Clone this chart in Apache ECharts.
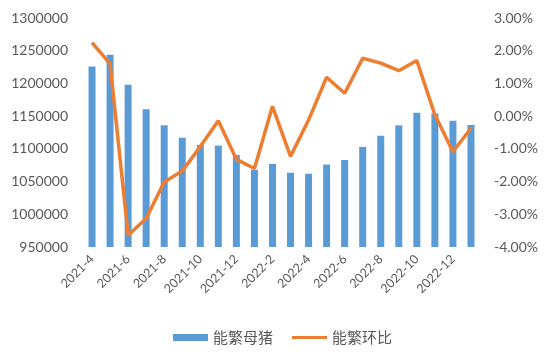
<!DOCTYPE html>
<html>
<head>
<meta charset="utf-8">
<script src="https://cdn.jsdelivr.net/npm/echarts@6/dist/echarts.min.js"></script>
<style>html,body{margin:0;padding:0;background:#fff}#c{width:550px;height:359px}</style>
</head>
<body>
<div id="c"></div>
<script>
const categories = ['2021-4','2021-5','2021-6','2021-7','2021-8','2021-9','2021-10','2021-11','2021-12','2022-1','2022-2','2022-3','2022-4','2022-5','2022-6','2022-7','2022-8','2022-9','2022-10','2022-11','2022-12','2023-1'];
const sowStock = [1226000,1244000,1198000,1160500,1136000,1117000,1106000,1105000,1090500,1068000,1077000,1063500,1062000,1076000,1083000,1103000,1120000,1136000,1155000,1154000,1143000,1136500];
const momChange = [2.25,1.60,-3.64,-3.13,-2.01,-1.68,-0.93,-0.14,-1.32,-1.60,0.30,-1.23,-0.12,1.19,0.70,1.77,1.62,1.39,1.70,0.04,-1.09,-0.37];
const leftTicks = {min:950000, max:1300000, interval:50000};
const rightTicks = {min:-4, max:3, interval:1};

const chart = echarts.init(document.getElementById('c'));
const labelColor = '#595959';
const font = 'Lato, "Noto Sans CJK SC", sans-serif';
chart.setOption({
  animation:false,
  grid:{left:83,right:70,top:18,bottom:112,containLabel:false},
  legend:{
    left:168, top:325,
    itemWidth:35, itemHeight:7, itemGap:19,
    textStyle:{color:labelColor,fontSize:15,fontFamily:'"Noto Sans CJK SC", sans-serif'},
    data:[
      {name:'能繁母猪',icon:'rect'},
      {name:'能繁环比',icon:'path://M0,0L35,0L35,3L0,3Z',itemStyle:{color:'#ED7D31'}}
    ]
  },
  xAxis:{
    type:'category', data:categories,
    axisLine:{show:false}, axisTick:{show:false},
    axisLabel:{interval:1,rotate:45,margin:10,color:labelColor,fontSize:12.5,fontFamily:font}
  },
  yAxis:[
    {type:'value',min:leftTicks.min,max:leftTicks.max,interval:leftTicks.interval,
     splitLine:{show:false},axisLine:{show:false},axisTick:{show:false},
     axisLabel:{margin:15,color:labelColor,fontSize:14,fontFamily:font,formatter:v=>String(v)}},
    {type:'value',min:rightTicks.min,max:rightTicks.max,interval:rightTicks.interval,
     splitLine:{show:false},axisLine:{show:false},axisTick:{show:false},
     axisLabel:{margin:14,color:labelColor,fontSize:14,fontFamily:font,formatter:v=>v.toFixed(2)+'%'}}
  ],
  series:[
    {name:'能繁母猪',type:'bar',data:sowStock,barWidth:7,itemStyle:{color:'#5B9BD5'}},
    {name:'能繁环比',type:'line',yAxisIndex:1,data:momChange,symbol:'none',
     lineStyle:{color:'#ED7D31',width:3.5},itemStyle:{color:'#ED7D31'}}
  ]
});
</script>
</body>
</html>
